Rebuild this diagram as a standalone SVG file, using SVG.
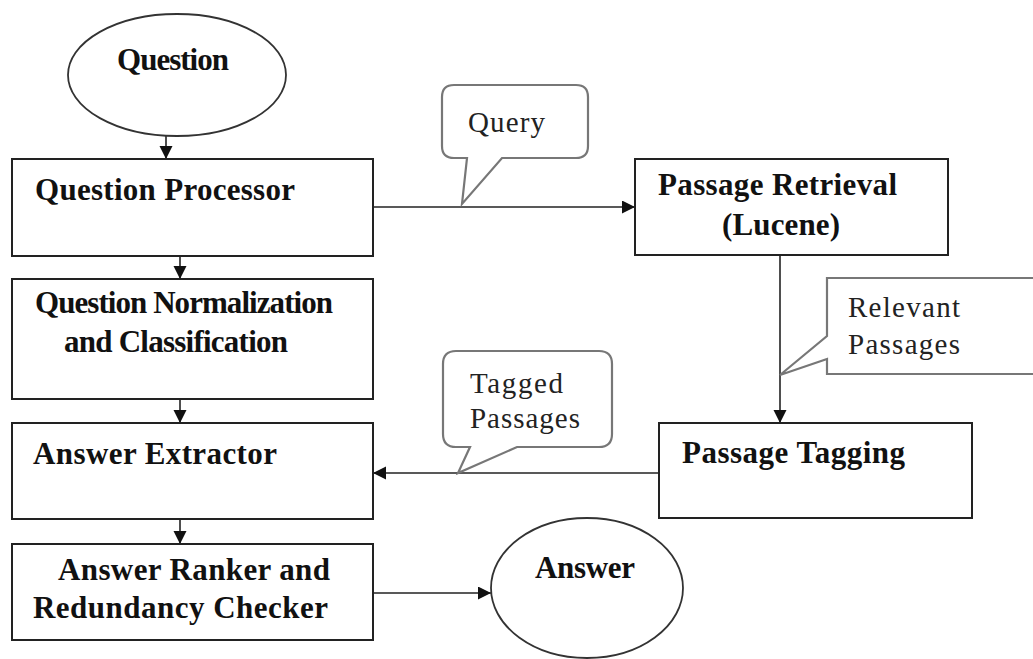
<svg xmlns="http://www.w3.org/2000/svg" width="1033" height="659" viewBox="0 0 1033 659">
<style>
.box{fill:#fff;stroke:#222;stroke-width:2}
.ell{fill:#fff;stroke:#333;stroke-width:1.8}
.call{fill:#fff;stroke:#777;stroke-width:2.2;stroke-linejoin:miter}
.b{font-family:"Liberation Serif","Times New Roman",serif;font-weight:bold;font-size:31px;fill:#111}
.r{font-family:"Liberation Serif","Times New Roman",serif;font-size:29px;fill:#222}
.con{stroke:#222;stroke-width:1.6;fill:none;marker-end:url(#ah)}
</style>
<defs>
<marker id="ah" markerWidth="14" markerHeight="14" refX="13" refY="6.5" orient="auto" markerUnits="userSpaceOnUse">
<path d="M0,0 L13,6.5 L0,13 z" fill="#111"/>
</marker>
</defs>
<rect width="1033" height="659" fill="#fff"/>

<g id="connectors">
<line class="con" x1="166" y1="135" x2="166" y2="159"/>
<line class="con" x1="180" y1="256" x2="180" y2="279"/>
<line class="con" x1="180" y1="399" x2="180" y2="423"/>
<line class="con" x1="180" y1="519" x2="180" y2="544"/>
<line class="con" x1="373" y1="207" x2="635" y2="207"/>
<line class="con" x1="780" y1="255" x2="780" y2="423"/>
<line class="con" x1="659" y1="473" x2="373" y2="473"/>
<line class="con" x1="373" y1="593" x2="491" y2="593"/>
</g>

<g id="question">
<ellipse class="ell" cx="177" cy="75" rx="109" ry="61"/>
<text class="b" x="117" y="70" textLength="112">Question</text>
</g>

<g id="question-processor">
<rect class="box" x="12" y="159" width="361" height="97"/>
<text class="b" x="35" y="200" textLength="260">Question Processor</text>
</g>

<g id="question-normalization">
<rect class="box" x="12" y="279" width="361" height="120"/>
<text class="b" x="35" y="313" textLength="298">Question Normalization</text>
<text class="b" x="64" y="352" textLength="224">and Classification</text>
</g>

<g id="answer-extractor">
<rect class="box" x="12" y="423" width="361" height="96"/>
<text class="b" x="33" y="464" textLength="244">Answer Extractor</text>
</g>

<g id="answer-ranker">
<rect class="box" x="12" y="544" width="361" height="96"/>
<text class="b" x="58" y="580" textLength="272">Answer Ranker and</text>
<text class="b" x="33" y="618" textLength="295">Redundancy Checker</text>
</g>

<g id="passage-retrieval">
<rect class="box" x="635" y="159" width="313" height="96"/>
<text class="b" x="658" y="195" textLength="239">Passage Retrieval</text>
<text class="b" x="722" y="235" textLength="118">(Lucene)</text>
</g>

<g id="passage-tagging">
<rect class="box" x="659" y="423" width="313" height="95"/>
<text class="b" x="682" y="463" textLength="223">Passage Tagging</text>
</g>

<g id="answer">
<ellipse class="ell" cx="587" cy="588" rx="96" ry="70"/>
<text class="b" x="535" y="578" textLength="100">Answer</text>
</g>

<g id="query-callout">
<path class="call" d="M454,85 H576 Q588,85 588,97 V146 Q588,158 576,158 H502 L462,204 L467,158 H454 Q442,158 442,146 V97 Q442,85 454,85 Z"/>
<text class="r" x="468" y="132" textLength="77">Query</text>
</g>

<g id="relevant-callout">
<path class="call" d="M1045,278 H827 V336 L780,375 L827,359 V374 H1045"/>
<text class="r" x="848" y="317" textLength="112">Relevant</text>
<text class="r" x="848" y="354" textLength="112">Passages</text>
</g>

<g id="tagged-callout">
<path class="call" d="M456,351 H599 Q612,351 612,364 V434 Q612,447 599,447 H517 L458,473 L470,447 H456 Q443,447 443,434 V364 Q443,351 456,351 Z"/>
<text class="r" x="470" y="393" textLength="93">Tagged</text>
<text class="r" x="470" y="428" textLength="110">Passages</text>
</g>
</svg>
